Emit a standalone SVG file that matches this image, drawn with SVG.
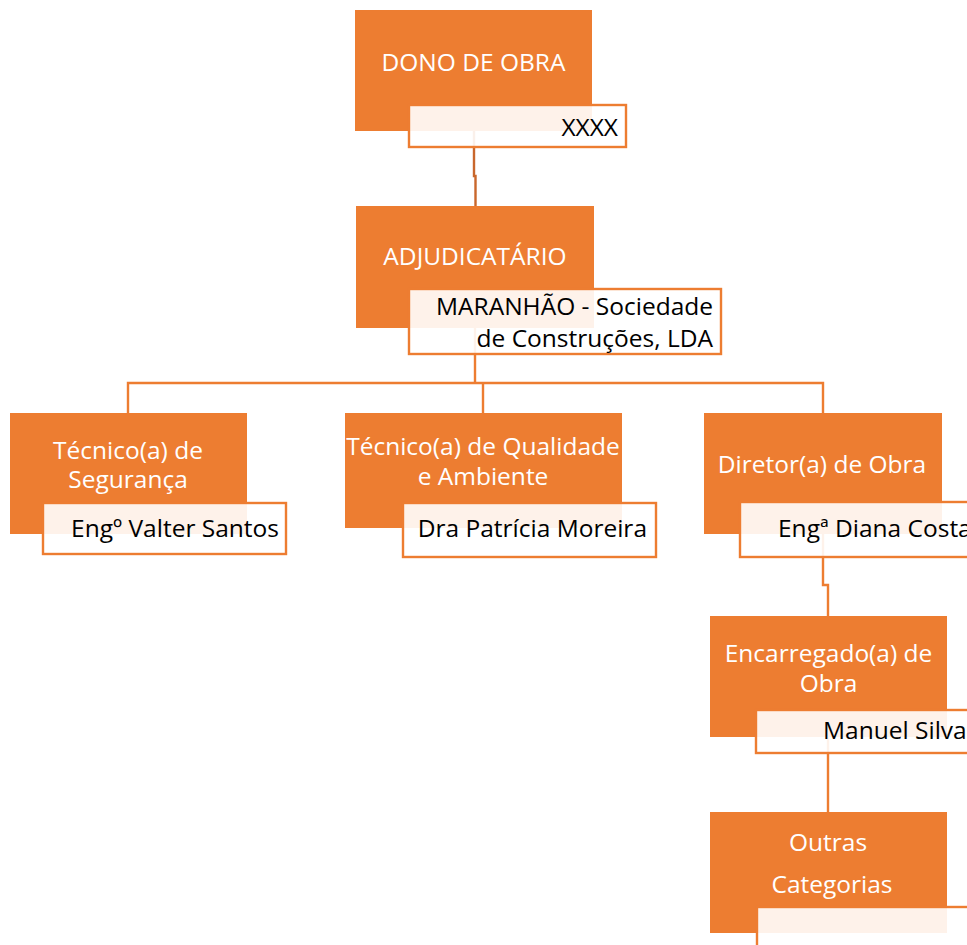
<svg xmlns="http://www.w3.org/2000/svg" width="967" height="945" viewBox="0 0 967 945">
  <style>
    .box { fill: #ED7D31; }
    .tag { fill: #FFFFFF; fill-opacity: 0.9; stroke: #ED7D31; stroke-width: 2.4; }
    .title { font-family: "Open Sans", "Liberation Sans", sans-serif; font-size: 24.5px; fill: #FFFFFF; text-anchor: middle; }
    .name { font-family: "Open Sans", "Liberation Sans", sans-serif; font-size: 24.5px; fill: #000000; }
    .end { text-anchor: end; }
    .link { fill: none; stroke: #ED7D31; stroke-width: 2.4; }
    .link.dark { stroke: #C9672C; }
  </style>

  <rect width="967" height="945" fill="#FFFFFF"/>

  <!-- role boxes -->
  <g id="dono-box"><rect class="box" x="355" y="10" width="237" height="121"/></g>
  <g id="adj-box"><rect class="box" x="356" y="206" width="238" height="122"/></g>
  <g id="seg-box"><rect class="box" x="10" y="413" width="237" height="121"/></g>
  <g id="qual-box"><rect class="box" x="345" y="413" width="277" height="115"/></g>
  <g id="dir-box"><rect class="box" x="704" y="413" width="238" height="121"/></g>
  <g id="enc-box"><rect class="box" x="710" y="616" width="237" height="121"/></g>
  <g id="outras-box"><rect class="box" x="710" y="812" width="237" height="121"/></g>

  <!-- connectors -->
  <g id="connectors">
    <path class="link dark" d="M474 131 V176 H475.5 V206"/>
    <path class="link" d="M475 328 V383"/>
    <path class="link" d="M128 413 V383 H823 V413"/>
    <path class="link" d="M483 383 V413"/>
    <path class="link" d="M823 534 V585 H828 V616"/>
    <path class="link" d="M828 737 V812"/>
  </g>

  <!-- role titles and name tags -->
  <g id="dono">
    <text class="title" x="473.5" y="71">DONO DE OBRA</text>
    <rect class="tag" x="409" y="105" width="217" height="42"/>
    <text class="name end" x="618" y="136">XXXX</text>
  </g>
  <g id="adjudicatario">
    <text class="title" x="475" y="265">ADJUDICATÁRIO</text>
    <rect class="tag" x="409" y="289" width="312" height="65"/>
    <text class="name end" x="713" y="315">MARANHÃO - Sociedade</text>
    <text class="name end" x="713" y="347">de Construções, LDA</text>
  </g>
  <g id="seguranca">
    <text class="title" x="128" y="459">Técnico(a) de</text>
    <text class="title" x="128" y="488">Segurança</text>
    <rect class="tag" x="43" y="503" width="243" height="51"/>
    <text class="name end" x="279" y="537">Engº Valter Santos</text>
  </g>
  <g id="qualidade">
    <text class="title" x="483" y="455">Técnico(a) de Qualidade</text>
    <text class="title" x="483" y="485">e Ambiente</text>
    <rect class="tag" x="403" y="503" width="253" height="54"/>
    <text class="name end" x="647" y="537">Dra Patrícia Moreira</text>
  </g>
  <g id="diretor">
    <text class="title" x="822" y="473">Diretor(a) de Obra</text>
    <rect class="tag" x="740" y="502" width="240" height="55"/>
    <text class="name" x="778" y="537">Engª Diana Costa</text>
  </g>
  <g id="encarregado">
    <text class="title" x="828.5" y="662">Encarregado(a) de</text>
    <text class="title" x="828.5" y="692">Obra</text>
    <rect class="tag" x="756" y="710" width="230" height="43"/>
    <text class="name" x="823" y="739">Manuel Silva</text>
  </g>
  <g id="outras">
    <text class="title" x="828" y="851">Outras</text>
    <text class="title" x="832" y="893">Categorias</text>
    <rect class="tag" x="757" y="907" width="230" height="60"/>
  </g>
</svg>
